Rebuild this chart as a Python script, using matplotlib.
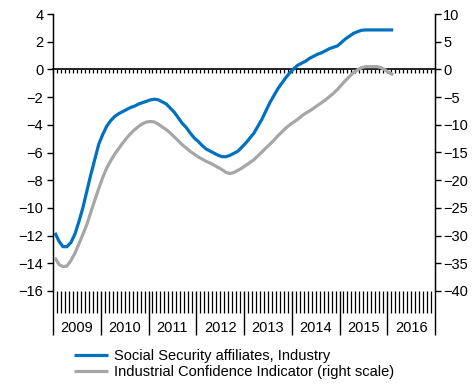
import numpy as np
import matplotlib
matplotlib.use("Agg")
import matplotlib.pyplot as plt
from matplotlib.ticker import FixedLocator, NullFormatter

plt.rcParams['font.family'] = ['Liberation Sans', 'DejaVu Sans']

start_year = 2009
years = ["2009", "2010", "2011", "2012", "2013", "2014", "2015", "2016"]

# Monthly values from Jan 2009
ss_affiliates = [
    -11.8, -12.4, -12.8, -12.8, -12.5, -11.9, -11.0, -10.0, -8.8, -7.6, -6.5, -5.4,
    -4.7, -4.1, -3.7, -3.4, -3.2, -3.05, -2.9, -2.75, -2.65, -2.5, -2.4, -2.3,
    -2.2, -2.15, -2.2, -2.35, -2.5, -2.8, -3.1, -3.5, -3.9, -4.2, -4.6, -4.95,
    -5.2, -5.5, -5.75, -5.9, -6.05, -6.2, -6.3, -6.3, -6.2, -6.05, -5.9, -5.6,
    -5.3, -4.95, -4.6, -4.1, -3.6, -3.0, -2.4, -1.9, -1.4, -1.0, -0.6, -0.25,
    0.05, 0.3, 0.45, 0.6, 0.8, 0.95, 1.1, 1.2, 1.35, 1.5, 1.6, 1.7,
    1.95, 2.2, 2.4, 2.6, 2.72, 2.82, 2.85, 2.85, 2.85, 2.85, 2.85, 2.85,
    2.85, 2.85,
]
confidence = [
    -34.0, -35.2, -35.6, -35.5, -34.5, -33.2, -31.5, -29.8, -28.0, -25.8, -23.6, -21.5,
    -19.5, -17.8, -16.5, -15.3, -14.3, -13.3, -12.4, -11.6, -10.9, -10.3, -9.8, -9.5,
    -9.4, -9.5, -9.9, -10.4, -10.9, -11.5, -12.2, -12.9, -13.6, -14.2, -14.8, -15.3,
    -15.8, -16.2, -16.6, -16.9, -17.3, -17.7, -18.1, -18.6, -18.8, -18.6, -18.2, -17.8,
    -17.3, -16.8, -16.3, -15.6, -14.9, -14.2, -13.5, -12.8, -12.0, -11.3, -10.6, -10.0,
    -9.5, -9.0, -8.4, -7.9, -7.5, -7.0, -6.5, -6.0, -5.5, -4.9, -4.3, -3.6,
    -2.8, -2.0, -1.3, -0.6, -0.1, 0.3, 0.5, 0.5, 0.5, 0.5, 0.3, -0.1,
    -0.6, -1.0,
]

label_ss = "Social Security affiliates, Industry"
label_ci = "Industrial Confidence Indicator (right scale)"

blue = "#0070C0"
gray = "#A6A6A6"

W, H = 472, 388
fig = plt.figure(figsize=(W / 100, H / 100), dpi=100)
ax = fig.add_axes([53 / W, 1 - 291 / H, (435 - 53) / W, (291 - 14) / H])
ax2 = ax.twinx()

x_ss = start_year + (np.arange(len(ss_affiliates)) + 0.5) / 12
x_ci = start_year + (np.arange(len(confidence)) + 0.5) / 12

l1, = ax.plot(x_ss, ss_affiliates, color=blue, lw=2.3, solid_capstyle='butt', zorder=3)
l2, = ax2.plot(x_ci, confidence, color=gray, lw=2.3, solid_capstyle='butt', zorder=3)

end_year = start_year + len(years)
ax.set_xlim(start_year, end_year)
ax.set_ylim(-16, 4)
ax2.set_ylim(-40, 10)
ax.set_yticks(np.arange(-16, 5, 2))
ax2.set_yticks(np.arange(-40, 11, 5))

fs = 10.5
ax.tick_params(axis='y', direction='out', length=4, width=1, labelsize=fs, pad=3)
ax2.tick_params(axis='y', direction='out', length=4, width=1, labelsize=fs, pad=2)

for a in (ax, ax2):
    a.spines['top'].set_visible(False)
    a.spines['bottom'].set_visible(False)
ax.spines['left'].set_linewidth(1)
ax2.spines['right'].set_linewidth(1)

# bottom ticks: years (long) and months (short)
year_bounds = np.arange(start_year, end_year + 1)
month_bounds = start_year + np.arange(0, len(years) * 12 + 1) / 12
ax.xaxis.set_major_locator(FixedLocator(year_bounds))
ax.xaxis.set_minor_locator(FixedLocator(month_bounds))
ax.xaxis.set_major_formatter(NullFormatter())
ax.tick_params(axis='x', which='major', direction='out', length=44 * 0.72, width=1)
ax.tick_params(axis='x', which='minor', direction='out', length=22 * 0.72, width=0.9)

# year labels
sec = ax.secondary_xaxis('bottom')
sec.set_xticks(np.arange(start_year, end_year) + 0.5)
sec.set_xticklabels(years)
sec.tick_params(axis='x', length=0, pad=30 * 0.72, labelsize=fs)
sec.spines['bottom'].set_visible(False)

# zero line with monthly ticks
zero_pos = (0 - (-16)) / (4 - (-16))
zl = ax.secondary_xaxis(zero_pos)
zl.set_alignment('bottom')
zl.xaxis.set_major_locator(FixedLocator(month_bounds))
zl.xaxis.set_major_formatter(NullFormatter())
zl.tick_params(axis='x', direction='out', length=3, width=0.9)
for s in zl.spines.values():
    s.set_linewidth(1.2)

fig.legend([l1, l2], [label_ss, label_ci], loc='upper left',
           bbox_to_anchor=(74 / W, 1 - 349 / H), frameon=False,
           fontsize=fs, handlelength=2.3, handletextpad=0.45,
           labelspacing=0.12, borderpad=0, borderaxespad=0)

fig.savefig("out.png", dpi=100)
